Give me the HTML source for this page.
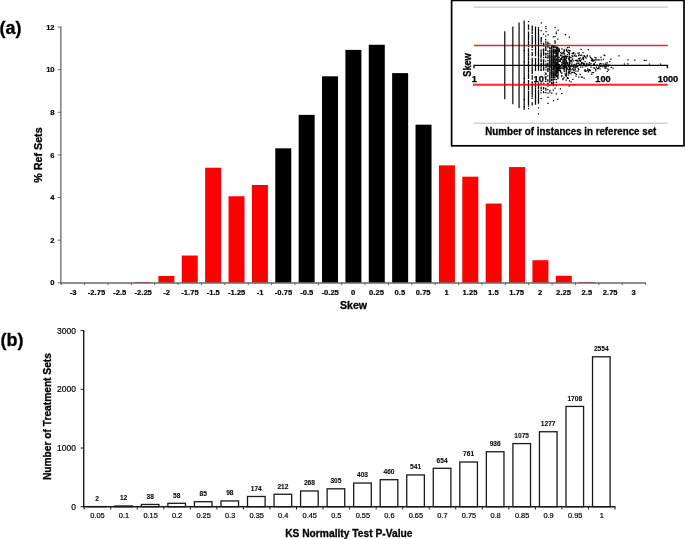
<!DOCTYPE html>
<html lang="en"><head><meta charset="utf-8"><title>Skew and KS normality figure</title>
<style>html,body{margin:0;padding:0;background:#fff}body{width:685px;height:539px;overflow:hidden}svg{display:block}text{font-family:"Liberation Sans", Arial, sans-serif;fill:#000}.b{font-weight:bold;stroke:#000;stroke-width:.3px}.t1{font-size:7.6px;font-weight:bold;stroke:#000;stroke-width:.2px}.t2{font-size:7.4px;stroke:#000;stroke-width:.2px}.t3{font-size:8.5px;stroke:#000;stroke-width:.2px}.v{font-size:6.6px;font-weight:bold;fill:#111;stroke:#111;stroke-width:.12px}.c{font-size:9.2px;font-weight:bold;stroke:#000;stroke-width:.25px}</style></head><body>
<svg width="685" height="539" viewBox="0 0 685 539">
<rect width="685" height="539" fill="#fff"/>
<text class="b" x="-0.4" y="34" font-size="18">(a)</text>
<rect x="135.02" y="281.95" width="16" height="0.85" fill="#fe0000"/>
<rect x="158.39" y="275.98" width="16" height="6.82" fill="#fe0000"/>
<rect x="181.77" y="255.52" width="16" height="27.28" fill="#fe0000"/>
<rect x="205.14" y="167.73" width="16" height="115.07" fill="#fe0000"/>
<rect x="228.52" y="196.28" width="16" height="86.52" fill="#fe0000"/>
<rect x="251.90" y="184.99" width="16" height="97.81" fill="#fe0000"/>
<rect x="275.27" y="148.33" width="16" height="134.47" fill="#000"/>
<rect x="298.65" y="114.88" width="16" height="167.92" fill="#000"/>
<rect x="322.02" y="76.31" width="16" height="206.49" fill="#000"/>
<rect x="345.40" y="49.88" width="16" height="232.92" fill="#000"/>
<rect x="368.78" y="44.77" width="16" height="238.03" fill="#000"/>
<rect x="392.15" y="73.11" width="16" height="209.69" fill="#000"/>
<rect x="415.53" y="124.68" width="16" height="158.12" fill="#000"/>
<rect x="438.90" y="165.38" width="16" height="117.42" fill="#fe0000"/>
<rect x="462.28" y="176.68" width="16" height="106.12" fill="#fe0000"/>
<rect x="485.66" y="203.53" width="16" height="79.27" fill="#fe0000"/>
<rect x="509.03" y="167.09" width="16" height="115.71" fill="#fe0000"/>
<rect x="532.41" y="260.21" width="16" height="22.59" fill="#fe0000"/>
<rect x="555.78" y="275.77" width="16" height="7.03" fill="#fe0000"/>
<rect x="579.16" y="281.95" width="16" height="0.85" fill="#fe0000"/>
<path d="M60.8 26.6V283.4" stroke="#7c7c7c" stroke-width="1.5" fill="none"/>
<path d="M60 282.9H645.9" stroke="#686868" stroke-width="1.5" fill="none"/>
<path d="M57.8 282.80H60.8M57.8 240.18H60.8M57.8 197.56H60.8M57.8 154.94H60.8M57.8 112.32H60.8M57.8 69.70H60.8M57.8 27.08H60.8" stroke="#666" stroke-width="1" fill="none"/>
<path d="M61.20 282.8V285.1M84.58 282.8V285.1M107.95 282.8V285.1M131.33 282.8V285.1M154.70 282.8V285.1M178.08 282.8V285.1M201.46 282.8V285.1M224.83 282.8V285.1M248.21 282.8V285.1M271.58 282.8V285.1M294.96 282.8V285.1M318.34 282.8V285.1M341.71 282.8V285.1M365.09 282.8V285.1M388.46 282.8V285.1M411.84 282.8V285.1M435.22 282.8V285.1M458.59 282.8V285.1M481.97 282.8V285.1M505.34 282.8V285.1M528.72 282.8V285.1M552.10 282.8V285.1M575.47 282.8V285.1M598.85 282.8V285.1M622.22 282.8V285.1M645.60 282.8V285.1" stroke="#666" stroke-width="1" fill="none"/>
<text class="t1" x="54.6" y="285.4" text-anchor="end">0</text>
<text class="t1" x="54.6" y="242.8" text-anchor="end">2</text>
<text class="t1" x="54.6" y="200.2" text-anchor="end">4</text>
<text class="t1" x="54.6" y="157.5" text-anchor="end">6</text>
<text class="t1" x="54.6" y="114.9" text-anchor="end">8</text>
<text class="t1" x="54.6" y="72.3" text-anchor="end">10</text>
<text class="t1" x="54.6" y="29.7" text-anchor="end">12</text>
<text class="t1" x="73.1" y="294.7" text-anchor="middle">-3</text>
<text class="t1" x="96.5" y="294.7" text-anchor="middle">-2.75</text>
<text class="t1" x="119.8" y="294.7" text-anchor="middle">-2.5</text>
<text class="t1" x="143.2" y="294.7" text-anchor="middle">-2.25</text>
<text class="t1" x="166.6" y="294.7" text-anchor="middle">-2</text>
<text class="t1" x="190.0" y="294.7" text-anchor="middle">-1.75</text>
<text class="t1" x="213.3" y="294.7" text-anchor="middle">-1.5</text>
<text class="t1" x="236.7" y="294.7" text-anchor="middle">-1.25</text>
<text class="t1" x="260.1" y="294.7" text-anchor="middle">-1</text>
<text class="t1" x="283.5" y="294.7" text-anchor="middle">-0.75</text>
<text class="t1" x="306.8" y="294.7" text-anchor="middle">-0.5</text>
<text class="t1" x="330.2" y="294.7" text-anchor="middle">-0.25</text>
<text class="t1" x="353.1" y="294.7" text-anchor="middle">0</text>
<text class="t1" x="376.5" y="294.7" text-anchor="middle">0.25</text>
<text class="t1" x="399.9" y="294.7" text-anchor="middle">0.5</text>
<text class="t1" x="423.2" y="294.7" text-anchor="middle">0.75</text>
<text class="t1" x="446.6" y="294.7" text-anchor="middle">1</text>
<text class="t1" x="470.0" y="294.7" text-anchor="middle">1.25</text>
<text class="t1" x="493.4" y="294.7" text-anchor="middle">1.5</text>
<text class="t1" x="516.7" y="294.7" text-anchor="middle">1.75</text>
<text class="t1" x="540.1" y="294.7" text-anchor="middle">2</text>
<text class="t1" x="563.5" y="294.7" text-anchor="middle">2.25</text>
<text class="t1" x="586.9" y="294.7" text-anchor="middle">2.5</text>
<text class="t1" x="610.2" y="294.7" text-anchor="middle">2.75</text>
<text class="t1" x="633.6" y="294.7" text-anchor="middle">3</text>
<text class="b" x="353.5" y="308.8" font-size="10.6" text-anchor="middle">Skew</text>
<text class="b" font-size="10.7" text-anchor="middle" transform="translate(42.3 155) rotate(-90)">% Ref Sets</text>
<rect x="451.6" y="0.4" width="232.4" height="145.4" fill="#fff" stroke="#000" stroke-width="1.7"/>
<path d="M474 7.1H667.8M474 123.2H667.8" stroke="#a8a8a8" stroke-width=".8" fill="none"/>
<path d="M474 45.5H667.8" stroke="#c23a38" stroke-width="1.4" fill="none"/>
<path d="M504.77 31.26V99.34M512.83 26.40V104.20M519.08 22.51V108.09M524.19 20.57V110.03" stroke="#111" stroke-width="1.25" fill="none"/>
<path d="M524.2 82.4h.01M524.2 99.3h.01M524.2 50.6h.01M524.2 106.9h.01M524.2 61.8h.01M524.2 78.4h.01M528.5 101.4h.01M528.5 64.7h.01M528.5 103.1h.01M528.5 70.7h.01M528.5 100.4h.01M528.5 98.7h.01M528.5 71.5h.01M528.5 38.6h.01M528.5 96.0h.01M528.5 87.9h.01M528.5 54.9h.01M528.5 28.7h.01M528.5 59.0h.01M528.5 73.7h.01M528.5 26.4h.01M528.5 102.3h.01M528.5 36.0h.01M528.5 82.5h.01M528.5 94.4h.01M528.5 96.5h.01M528.5 80.9h.01M528.5 39.5h.01M528.5 91.4h.01M528.5 58.6h.01M528.5 54.0h.01M528.5 75.7h.01M528.5 61.4h.01M528.5 101.0h.01M528.5 101.3h.01M528.5 89.3h.01M528.5 50.6h.01M528.5 71.2h.01M528.5 80.5h.01M528.5 58.3h.01M528.5 69.1h.01M528.5 81.7h.01M528.5 41.3h.01M528.5 49.0h.01M528.5 86.2h.01M528.5 59.2h.01M528.5 63.2h.01M528.5 34.7h.01M528.5 46.6h.01M528.5 82.6h.01M528.5 26.1h.01M528.5 96.5h.01M528.5 72.0h.01M528.5 44.3h.01M528.5 93.7h.01M528.5 66.2h.01M528.5 102.9h.01M528.5 51.6h.01M528.5 43.7h.01M528.5 59.3h.01M528.5 34.6h.01M528.5 80.5h.01M528.5 49.3h.01M528.5 57.6h.01M528.5 58.8h.01M528.5 68.9h.01M528.5 37.5h.01M528.5 29.0h.01M528.5 67.4h.01M528.5 51.9h.01M528.5 101.2h.01M528.5 48.8h.01M528.5 53.3h.01M528.5 25.0h.01M528.5 39.0h.01M528.5 82.9h.01M528.5 74.6h.01M528.5 51.5h.01M528.5 104.3h.01M528.5 68.4h.01M528.5 92.4h.01M528.5 96.6h.01M528.5 101.3h.01M528.5 43.4h.01M528.5 95.6h.01M528.5 85.9h.01M528.5 74.2h.01M528.5 35.0h.01M528.5 99.6h.01M528.5 69.5h.01M528.5 61.3h.01M528.5 34.0h.01M528.5 39.2h.01M528.5 35.6h.01M528.5 83.4h.01M528.5 72.2h.01M528.5 76.8h.01M528.5 33.9h.01M528.5 27.9h.01M528.5 93.8h.01M528.5 91.7h.01M528.5 87.2h.01M528.5 87.1h.01M528.5 66.5h.01M528.5 58.0h.01M528.5 84.7h.01M528.5 105.8h.01M528.5 71.9h.01M528.5 76.0h.01M528.5 59.9h.01M528.5 28.3h.01M528.5 49.7h.01M528.5 64.0h.01M528.5 55.7h.01M528.5 50.9h.01M528.5 101.7h.01M528.5 32.7h.01M528.5 42.4h.01M528.5 34.7h.01M528.5 41.0h.01M528.5 74.1h.01M528.5 73.6h.01M528.5 97.7h.01M528.5 54.3h.01M528.5 101.1h.01M528.5 100.6h.01M528.5 89.1h.01M528.5 92.9h.01M528.5 78.4h.01M528.5 101.9h.01M528.5 106.1h.01M528.5 93.8h.01M528.5 97.9h.01M528.5 76.4h.01M528.5 104.1h.01M528.5 34.7h.01M528.5 56.0h.01M528.5 94.0h.01M528.5 85.5h.01M528.5 77.8h.01M528.5 76.4h.01M528.5 96.1h.01M528.5 36.8h.01M528.5 25.0h.01M528.5 68.1h.01M528.5 66.6h.01M528.5 99.1h.01M528.5 97.8h.01M528.5 78.2h.01M528.5 84.5h.01M528.5 38.4h.01M528.5 93.0h.01M528.5 104.3h.01M528.5 28.5h.01M528.5 63.0h.01M528.5 94.2h.01M528.5 61.4h.01M528.5 108.5h.01M528.5 62.7h.01M528.5 21.6h.01M528.5 32.1h.01M532.2 49.7h.01M532.2 84.3h.01M532.2 75.9h.01M532.2 91.9h.01M532.2 43.6h.01M532.2 62.7h.01M532.2 43.0h.01M532.2 78.9h.01M532.2 87.4h.01M532.2 40.5h.01M532.2 26.6h.01M532.2 37.2h.01M532.2 40.9h.01M532.2 39.9h.01M532.2 46.2h.01M532.2 87.1h.01M532.2 63.9h.01M532.2 76.8h.01M532.2 102.9h.01M532.2 102.9h.01M532.2 82.9h.01M532.2 84.5h.01M532.2 49.9h.01M532.2 28.9h.01M532.2 69.5h.01M532.2 30.4h.01M532.2 26.4h.01M532.2 29.0h.01M532.2 76.1h.01M532.2 87.6h.01M532.2 87.1h.01M532.2 89.5h.01M532.2 88.9h.01M532.2 55.4h.01M532.2 33.4h.01M532.2 38.2h.01M532.2 66.9h.01M532.2 53.1h.01M532.2 41.4h.01M532.2 98.4h.01M532.2 52.5h.01M532.2 32.6h.01M532.2 42.8h.01M532.2 45.4h.01M532.2 67.1h.01M532.2 90.9h.01M532.2 42.2h.01M532.2 78.7h.01M532.2 41.3h.01M532.2 27.7h.01M532.2 73.6h.01M532.2 73.2h.01M532.2 29.7h.01M532.2 47.4h.01M532.2 91.6h.01M532.2 95.0h.01M532.2 93.1h.01M532.2 33.0h.01M532.2 40.9h.01M532.2 93.5h.01M532.2 39.3h.01M532.2 27.0h.01M532.2 52.8h.01M532.2 77.2h.01M532.2 61.4h.01M532.2 94.7h.01M532.2 104.0h.01M532.2 27.7h.01M532.2 53.4h.01M532.2 63.2h.01M532.2 30.7h.01M532.2 70.6h.01M532.2 35.7h.01M532.2 39.3h.01M532.2 88.3h.01M532.2 85.1h.01M532.2 81.8h.01M532.2 86.0h.01M532.2 58.4h.01M532.2 84.5h.01M532.2 71.8h.01M532.2 94.7h.01M532.2 32.6h.01M532.2 77.0h.01M532.2 68.6h.01M532.2 58.7h.01M532.2 33.1h.01M532.2 71.6h.01M532.2 32.0h.01M532.2 65.2h.01M532.2 62.8h.01M532.2 63.4h.01M532.2 103.7h.01M532.2 70.1h.01M532.2 90.6h.01M532.2 104.9h.01M532.2 41.4h.01M532.2 91.4h.01M532.2 67.4h.01M532.2 47.3h.01M532.2 60.8h.01M532.2 79.2h.01M532.2 63.8h.01M532.2 60.9h.01M532.2 42.6h.01M532.2 96.7h.01M532.2 60.5h.01M532.2 85.4h.01M532.2 83.1h.01M532.2 43.6h.01M532.2 64.6h.01M532.2 59.4h.01M532.2 40.5h.01M532.2 26.0h.01M532.2 70.7h.01M532.2 54.6h.01M535.5 64.9h.01M535.5 64.4h.01M535.5 50.3h.01M535.5 69.0h.01M535.5 62.7h.01M535.5 67.0h.01M535.5 31.0h.01M535.5 49.8h.01M535.5 36.0h.01M535.5 30.9h.01M535.5 84.0h.01M535.5 60.7h.01M535.5 30.8h.01M535.5 38.8h.01M535.5 93.5h.01M535.5 94.7h.01M535.5 69.8h.01M535.5 98.6h.01M535.5 85.5h.01M535.5 98.5h.01M535.5 52.1h.01M535.5 43.2h.01M535.5 34.4h.01M535.5 92.2h.01M535.5 48.5h.01M535.5 52.8h.01M535.5 93.1h.01M535.5 35.5h.01M535.5 28.9h.01M535.5 87.1h.01M535.5 30.1h.01M535.5 73.2h.01M535.5 66.3h.01M535.5 27.2h.01M535.5 39.4h.01M535.5 91.6h.01M535.5 70.6h.01M535.5 64.1h.01M535.5 77.8h.01M535.5 89.0h.01M535.5 79.4h.01M535.5 48.0h.01M535.5 102.7h.01M535.5 61.1h.01M535.5 69.9h.01M535.5 102.8h.01M535.5 78.4h.01M535.5 55.7h.01M535.5 64.3h.01M535.5 99.2h.01M535.5 27.6h.01M535.5 42.9h.01M535.5 28.6h.01M535.5 96.0h.01M535.5 83.5h.01M535.5 101.1h.01M535.5 43.6h.01M535.5 83.2h.01M535.5 94.1h.01M535.5 71.3h.01M535.5 33.3h.01M535.5 40.5h.01M535.5 84.1h.01M535.5 92.6h.01M535.5 32.7h.01M535.5 59.8h.01M535.5 49.7h.01M535.5 97.2h.01M535.5 99.7h.01M535.5 50.7h.01M535.5 71.1h.01M535.5 98.6h.01M535.5 31.2h.01M535.5 54.8h.01M535.5 41.8h.01M535.5 97.7h.01M535.5 37.6h.01M535.5 99.0h.01M535.5 37.1h.01M535.5 68.9h.01M535.5 77.8h.01M535.5 61.2h.01M535.5 32.1h.01M535.5 83.4h.01M535.5 94.1h.01M535.5 63.2h.01M535.5 85.6h.01M535.5 95.7h.01M535.5 91.6h.01M535.5 100.3h.01M535.5 88.5h.01M535.5 79.9h.01M535.5 80.5h.01M535.5 45.1h.01M535.5 81.6h.01M535.5 65.3h.01M535.5 90.4h.01M535.5 77.2h.01M535.5 102.8h.01M535.5 84.7h.01M535.5 103.0h.01M535.5 47.2h.01M535.5 61.3h.01M535.5 89.5h.01M535.5 67.3h.01M535.5 31.5h.01M535.5 95.9h.01M535.5 40.5h.01M535.5 70.6h.01M535.5 65.7h.01M535.5 39.3h.01M535.5 73.6h.01M535.5 64.8h.01M535.5 50.7h.01M535.5 27.8h.01M535.5 77.5h.01M535.5 39.4h.01M535.5 49.2h.01M535.5 54.7h.01M535.5 72.7h.01M535.5 77.2h.01M535.5 100.0h.01M535.5 94.1h.01M535.5 98.7h.01M535.5 46.6h.01M535.5 84.3h.01M535.5 91.5h.01M535.5 97.6h.01M535.5 38.7h.01M535.5 36.5h.01M535.5 52.0h.01M535.5 82.3h.01M535.5 85.4h.01M535.5 81.4h.01M535.5 68.5h.01M535.5 91.9h.01M535.5 69.5h.01M535.5 83.7h.01M535.5 29.4h.01M535.5 28.5h.01M535.5 61.6h.01M535.5 85.2h.01M535.5 29.1h.01M535.5 80.1h.01M535.5 76.5h.01M535.5 104.1h.01M535.5 74.5h.01M535.5 67.3h.01M535.5 65.1h.01M535.5 88.6h.01M535.5 64.9h.01M535.5 103.8h.01M535.5 83.6h.01M535.5 97.2h.01M535.5 73.1h.01M535.5 101.0h.01M535.5 102.4h.01M535.5 80.5h.01M535.5 86.1h.01M535.5 58.6h.01M535.5 63.0h.01M535.5 45.8h.01M535.5 53.0h.01M535.5 48.5h.01M535.5 35.8h.01M535.5 73.9h.01M535.5 78.8h.01M535.5 27.6h.01M535.5 92.6h.01M535.5 47.9h.01M535.5 54.2h.01M535.5 100.8h.01M535.5 39.2h.01M535.5 34.8h.01M535.5 55.4h.01M535.5 47.1h.01M535.5 41.0h.01M535.5 93.4h.01M535.5 63.5h.01M535.5 65.0h.01M535.5 39.2h.01M535.5 41.6h.01M535.5 39.9h.01M535.5 58.8h.01M535.5 34.7h.01M535.5 51.1h.01M535.5 50.3h.01M535.5 86.3h.01M535.5 101.8h.01M535.5 93.8h.01M535.5 78.3h.01M535.5 102.2h.01M535.5 33.9h.01M535.5 59.8h.01M535.5 53.4h.01M535.5 53.5h.01M538.5 51.6h.01M538.5 66.1h.01M538.5 103.0h.01M538.5 42.7h.01M538.5 46.5h.01M538.5 65.1h.01M538.5 62.6h.01M538.5 53.2h.01M538.5 98.2h.01M538.5 47.3h.01M538.5 84.1h.01M538.5 97.6h.01M538.5 83.1h.01M538.5 47.9h.01M538.5 87.7h.01M538.5 47.1h.01M538.5 29.2h.01M538.5 65.8h.01M538.5 74.2h.01M538.5 66.9h.01M538.5 51.4h.01M538.5 45.0h.01M538.5 56.4h.01M538.5 54.5h.01M538.5 97.4h.01M538.5 92.0h.01M538.5 84.0h.01M538.5 46.9h.01M538.5 80.1h.01M538.5 60.2h.01M538.5 102.3h.01M538.5 98.6h.01M538.5 82.8h.01M538.5 52.3h.01M538.5 50.7h.01M538.5 52.0h.01M538.5 81.2h.01M538.5 64.0h.01M538.5 68.0h.01M538.5 67.9h.01M538.5 94.2h.01M538.5 35.4h.01M538.5 88.1h.01M538.5 29.0h.01M538.5 32.2h.01M538.5 101.9h.01M538.5 68.4h.01M538.5 41.0h.01M538.5 29.8h.01M538.5 69.1h.01M538.5 82.8h.01M538.5 87.3h.01M538.5 31.5h.01M538.5 87.2h.01M538.5 59.1h.01M538.5 92.5h.01M538.5 63.5h.01M538.5 31.0h.01M538.5 93.2h.01M538.5 41.0h.01M538.5 64.6h.01M538.5 36.0h.01M538.5 49.9h.01M538.5 85.7h.01M538.5 35.1h.01M538.5 66.4h.01M538.5 101.3h.01M538.5 103.0h.01M538.5 65.9h.01M538.5 69.0h.01M538.5 80.3h.01M538.5 92.6h.01M538.5 77.1h.01M538.5 79.3h.01M538.5 39.5h.01M538.5 103.1h.01M538.5 46.3h.01M538.5 39.6h.01M538.5 94.1h.01M538.5 33.0h.01M538.5 49.1h.01M538.5 34.8h.01M538.5 81.2h.01M538.5 75.0h.01M538.5 73.4h.01M538.5 27.5h.01M538.5 58.5h.01M538.5 75.9h.01M538.5 70.8h.01M538.5 82.4h.01M538.5 99.6h.01M538.5 95.5h.01M538.5 39.9h.01M538.5 81.6h.01M538.5 32.3h.01M538.5 84.3h.01M538.5 83.1h.01M538.5 64.5h.01M538.5 88.8h.01M538.5 74.9h.01M538.5 30.7h.01M538.5 36.2h.01M538.5 41.6h.01M538.5 55.4h.01M538.5 33.9h.01M538.5 31.9h.01M538.5 61.6h.01M538.5 48.6h.01M538.5 99.5h.01M538.5 47.7h.01M538.5 69.0h.01M538.5 46.1h.01M538.5 54.3h.01M538.5 81.5h.01M538.5 99.5h.01M538.5 32.9h.01M538.5 93.6h.01M538.5 67.4h.01M538.5 77.2h.01M538.5 80.6h.01M538.5 47.2h.01M538.5 29.2h.01M538.5 83.5h.01M538.5 53.5h.01M538.5 80.4h.01M538.5 61.0h.01M538.5 73.3h.01M538.5 90.5h.01M538.5 91.0h.01M538.5 87.5h.01M538.5 34.5h.01M538.5 65.5h.01M538.5 86.5h.01M538.5 34.5h.01M538.5 27.6h.01M538.5 69.1h.01M538.5 92.6h.01M538.5 88.6h.01M538.5 96.3h.01M538.5 77.3h.01M538.5 96.3h.01M538.5 85.1h.01M538.5 83.6h.01M538.5 60.0h.01M538.5 35.9h.01M538.5 46.4h.01M538.5 71.9h.01M538.5 71.8h.01M538.5 63.5h.01M538.5 74.6h.01M538.5 77.6h.01M538.5 98.5h.01M538.5 82.2h.01M538.5 29.8h.01M538.5 93.7h.01M538.5 65.0h.01M538.5 55.5h.01M538.5 37.8h.01M538.5 86.8h.01M538.5 82.7h.01M538.5 84.4h.01M538.5 72.9h.01M538.5 69.4h.01M538.5 30.9h.01M538.5 38.9h.01M538.5 37.0h.01M538.5 101.6h.01M538.5 100.8h.01M538.5 49.4h.01M538.5 35.3h.01M538.5 67.3h.01M538.5 58.7h.01M538.5 103.2h.01M538.5 73.5h.01M538.5 32.9h.01M538.5 40.6h.01M538.5 38.3h.01M538.5 29.5h.01M538.5 84.4h.01M538.5 95.0h.01M538.5 91.5h.01M538.5 63.6h.01M538.5 51.5h.01M538.5 31.8h.01M538.5 48.5h.01M538.5 54.1h.01M538.5 45.2h.01M538.5 68.5h.01M538.5 61.4h.01M538.5 100.2h.01M538.5 43.9h.01M538.5 85.6h.01M538.5 33.4h.01M538.5 54.3h.01M538.5 80.2h.01M538.5 93.5h.01M538.5 84.1h.01M538.5 55.0h.01M538.5 50.2h.01M538.5 94.7h.01M538.5 107.9h.01M538.5 62.9h.01M538.5 57.1h.01M538.5 76.4h.01M538.5 92.7h.01M538.5 55.3h.01M538.5 113.9h.01M538.5 85.0h.01M541.2 54.7h.01M541.1 51.2h.01M541.1 76.1h.01M541.1 40.8h.01M541.0 70.3h.01M541.1 87.6h.01M541.1 64.1h.01M541.1 81.9h.01M541.1 50.5h.01M541.2 61.3h.01M541.2 55.4h.01M541.2 38.0h.01M541.1 52.9h.01M541.1 59.5h.01M541.2 74.5h.01M541.2 75.0h.01M541.1 60.1h.01M541.2 54.1h.01M541.1 56.0h.01M541.1 67.1h.01M541.0 55.8h.01M541.0 65.7h.01M541.3 90.4h.01M541.2 43.7h.01M541.1 64.9h.01M541.2 50.0h.01M541.1 41.8h.01M541.1 59.8h.01M541.0 69.0h.01M541.1 56.1h.01M541.1 87.4h.01M541.1 54.0h.01M541.3 66.7h.01M541.0 57.1h.01M541.2 79.2h.01M541.1 88.7h.01M541.1 39.3h.01M541.1 61.2h.01M541.3 66.7h.01M541.0 63.9h.01M541.0 68.8h.01M541.2 53.8h.01M541.3 70.1h.01M541.3 70.9h.01M541.2 53.8h.01M541.1 66.2h.01M541.1 39.7h.01M541.3 38.2h.01M541.2 63.3h.01M541.1 59.1h.01M541.2 66.3h.01M541.1 81.2h.01M541.2 64.5h.01M541.3 37.5h.01M541.2 45.7h.01M541.3 22.8h.01M541.1 59.4h.01M541.1 98.5h.01M541.0 92.9h.01M541.1 30.6h.01M541.0 64.0h.01M541.0 83.4h.01M543.8 77.4h.01M543.7 68.8h.01M543.5 52.2h.01M543.5 65.3h.01M543.6 88.8h.01M543.5 64.1h.01M543.7 83.1h.01M543.7 53.5h.01M543.5 51.2h.01M543.7 83.2h.01M543.6 69.8h.01M543.7 45.0h.01M543.5 60.6h.01M543.5 53.2h.01M543.6 49.1h.01M543.6 77.9h.01M543.5 45.8h.01M543.7 65.2h.01M543.5 91.6h.01M543.7 92.7h.01M543.7 59.8h.01M543.5 51.8h.01M543.5 61.1h.01M543.7 44.0h.01M543.6 67.8h.01M543.5 53.0h.01M543.7 77.0h.01M543.6 57.4h.01M543.6 66.8h.01M543.5 61.3h.01M543.5 49.7h.01M543.7 65.0h.01M543.5 43.3h.01M543.7 50.5h.01M543.5 63.3h.01M543.7 68.3h.01M543.6 54.6h.01M543.6 57.7h.01M543.6 61.5h.01M543.5 68.7h.01M543.7 72.8h.01M543.5 81.7h.01M543.7 53.2h.01M543.6 76.8h.01M543.6 34.1h.01M543.7 75.3h.01M543.5 51.7h.01M543.6 62.3h.01M543.7 53.3h.01M543.6 87.7h.01M543.6 62.0h.01M543.6 60.6h.01M543.6 55.1h.01M543.6 70.2h.01M545.8 73.1h.01M545.9 64.6h.01M545.8 57.7h.01M545.9 67.7h.01M545.7 54.2h.01M546.0 66.5h.01M545.7 46.7h.01M546.0 67.1h.01M545.9 90.0h.01M545.9 42.5h.01M545.8 49.7h.01M545.8 41.2h.01M545.8 47.7h.01M545.8 88.4h.01M545.8 79.5h.01M545.7 53.3h.01M546.0 63.9h.01M545.7 39.3h.01M545.7 88.5h.01M546.0 74.3h.01M545.9 48.8h.01M545.9 50.1h.01M545.9 69.9h.01M545.8 49.1h.01M545.8 73.5h.01M545.7 78.6h.01M545.8 77.6h.01M545.9 76.6h.01M545.8 61.1h.01M545.8 81.3h.01M545.8 54.0h.01M545.7 56.1h.01M545.7 92.5h.01M545.9 53.6h.01M545.9 28.6h.01M545.9 44.0h.01M545.8 36.1h.01M546.0 54.3h.01M546.0 31.6h.01M545.9 26.7h.01M546.0 57.7h.01M545.8 79.6h.01M545.7 79.5h.01M545.7 50.4h.01M547.8 79.8h.01M548.0 43.3h.01M547.8 68.8h.01M547.8 64.8h.01M547.9 65.8h.01M547.8 45.9h.01M548.1 60.5h.01M548.0 55.9h.01M548.0 56.8h.01M547.8 70.1h.01M547.9 86.0h.01M548.0 68.6h.01M548.0 83.6h.01M547.8 71.3h.01M547.9 42.4h.01M548.0 65.3h.01M547.9 68.7h.01M547.9 81.2h.01M547.8 44.0h.01M548.0 64.5h.01M547.9 69.2h.01M548.0 93.0h.01M547.8 71.3h.01M547.8 75.9h.01M547.9 51.6h.01M547.9 47.0h.01M547.8 57.8h.01M548.0 69.4h.01M547.9 63.2h.01M547.8 64.2h.01M548.0 71.2h.01M548.0 55.7h.01M547.9 58.1h.01M547.8 43.5h.01M547.8 53.6h.01M547.8 68.8h.01M548.0 97.4h.01M547.9 103.4h.01M548.0 64.7h.01M547.9 60.5h.01M547.9 85.8h.01M548.1 34.9h.01M548.0 66.3h.01M547.8 83.3h.01M547.8 89.6h.01M547.8 69.4h.01M547.9 63.6h.01M548.1 68.2h.01M548.0 53.8h.01M547.9 51.2h.01M549.8 76.7h.01M549.8 79.6h.01M550.0 65.4h.01M549.9 61.1h.01M550.0 64.6h.01M549.9 65.5h.01M549.8 81.5h.01M549.8 60.5h.01M549.7 58.2h.01M549.8 59.5h.01M550.0 64.4h.01M549.9 80.8h.01M549.8 65.7h.01M549.9 50.8h.01M549.9 72.6h.01M550.0 65.5h.01M549.7 59.8h.01M549.9 64.8h.01M550.0 56.5h.01M550.0 64.6h.01M549.8 73.8h.01M549.9 62.7h.01M550.0 69.9h.01M549.8 79.1h.01M550.0 55.5h.01M549.8 78.3h.01M549.8 66.5h.01M549.8 78.1h.01M550.0 67.4h.01M549.8 67.3h.01M550.0 59.3h.01M549.8 63.5h.01M549.7 62.7h.01M549.9 62.3h.01M549.9 75.3h.01M549.7 76.7h.01M550.0 72.9h.01M550.0 69.8h.01M550.0 61.3h.01M550.0 66.8h.01M549.8 59.5h.01M549.7 66.1h.01M550.0 59.9h.01M549.9 77.6h.01M549.8 79.2h.01M549.9 60.4h.01M549.8 61.5h.01M549.7 69.1h.01M549.8 54.1h.01M549.8 67.8h.01M549.8 47.7h.01M550.0 52.0h.01M549.9 67.2h.01M549.8 53.5h.01M549.9 62.2h.01M549.9 73.9h.01M549.8 50.6h.01M550.0 61.3h.01M549.8 67.9h.01M549.9 57.1h.01M550.0 64.3h.01M549.9 51.9h.01M549.9 64.0h.01M549.8 59.3h.01M550.0 52.9h.01M549.8 66.0h.01M549.9 60.7h.01M549.7 48.1h.01M549.9 67.2h.01M549.9 67.7h.01M549.8 60.9h.01M549.8 79.0h.01M549.7 82.1h.01M550.0 50.5h.01M549.8 57.1h.01M550.0 63.2h.01M550.0 74.8h.01M549.8 64.4h.01M549.9 77.1h.01M549.9 61.1h.01M549.8 70.3h.01M549.8 72.2h.01M549.9 55.6h.01M549.8 77.5h.01M549.9 81.4h.01M549.7 57.4h.01M549.8 59.1h.01M549.9 61.1h.01M550.0 55.9h.01M549.8 60.8h.01M549.8 59.2h.01M549.8 70.6h.01M549.8 65.2h.01M549.7 47.3h.01M550.0 67.0h.01M550.0 48.9h.01M549.9 52.9h.01M549.8 66.5h.01M549.9 85.0h.01M549.8 54.0h.01M549.7 56.1h.01M549.9 92.0h.01M549.9 43.9h.01M549.8 78.9h.01M549.9 80.4h.01M550.0 90.7h.01M551.6 54.4h.01M551.6 80.2h.01M551.6 72.3h.01M551.7 68.2h.01M551.7 70.8h.01M551.7 84.2h.01M551.7 73.2h.01M551.5 61.7h.01M551.7 80.7h.01M551.7 55.3h.01M551.7 64.3h.01M551.7 53.1h.01M551.8 77.8h.01M551.6 55.7h.01M551.6 74.8h.01M551.7 79.6h.01M551.7 61.4h.01M551.6 64.8h.01M551.7 59.3h.01M551.7 53.1h.01M551.7 56.0h.01M551.8 79.6h.01M551.7 65.5h.01M551.6 50.4h.01M551.7 68.6h.01M551.6 74.1h.01M551.5 54.3h.01M551.6 65.3h.01M551.6 65.7h.01M551.6 63.3h.01M551.6 67.5h.01M551.6 73.8h.01M551.7 65.7h.01M551.6 60.6h.01M551.6 45.5h.01M551.8 51.6h.01M551.7 50.9h.01M551.6 77.8h.01M551.8 61.7h.01M551.8 73.5h.01M551.8 52.2h.01M551.7 73.1h.01M551.6 62.5h.01M551.8 59.3h.01M551.6 73.0h.01M551.6 70.2h.01M551.6 58.6h.01M551.6 47.2h.01M551.6 64.0h.01M551.6 68.2h.01M551.7 52.7h.01M551.8 69.8h.01M551.8 72.9h.01M551.8 45.5h.01M551.8 57.3h.01M551.7 51.5h.01M551.5 48.7h.01M551.7 62.4h.01M551.6 64.3h.01M551.6 59.4h.01M551.6 62.7h.01M551.8 74.1h.01M551.8 62.6h.01M551.7 70.6h.01M551.8 61.2h.01M551.8 79.9h.01M551.7 60.6h.01M551.7 70.3h.01M551.8 64.9h.01M551.7 75.8h.01M551.6 65.0h.01M551.7 56.5h.01M551.6 53.1h.01M551.7 60.0h.01M551.8 77.6h.01M551.5 64.2h.01M551.7 57.8h.01M551.7 74.4h.01M551.6 58.7h.01M551.8 73.1h.01M551.7 50.8h.01M551.5 57.4h.01M551.8 76.8h.01M551.6 74.6h.01M551.7 51.6h.01M551.8 65.8h.01M551.7 47.7h.01M551.6 60.7h.01M551.7 57.7h.01M551.7 72.1h.01M551.6 63.4h.01M551.6 71.6h.01M551.6 83.2h.01M551.8 71.0h.01M551.6 74.7h.01M551.7 57.1h.01M551.8 48.9h.01M551.6 66.8h.01M551.7 68.0h.01M551.7 56.1h.01M551.7 63.1h.01M551.8 69.8h.01M551.6 70.3h.01M551.5 66.1h.01M551.7 48.2h.01M551.8 83.1h.01M551.7 93.1h.01M551.7 84.6h.01M551.7 82.6h.01M551.7 70.0h.01M551.7 76.5h.01M553.3 63.9h.01M553.2 69.3h.01M553.4 60.7h.01M553.4 77.8h.01M553.4 49.7h.01M553.3 64.8h.01M553.3 55.3h.01M553.5 78.2h.01M553.2 57.9h.01M553.2 67.1h.01M553.5 65.6h.01M553.3 85.7h.01M553.2 75.2h.01M553.5 75.2h.01M553.5 55.0h.01M553.2 75.2h.01M553.4 62.6h.01M553.2 62.9h.01M553.2 58.4h.01M553.5 66.5h.01M553.2 69.3h.01M553.2 60.5h.01M553.4 68.4h.01M553.3 63.5h.01M553.2 46.9h.01M553.5 61.8h.01M553.4 81.1h.01M553.4 51.3h.01M553.4 56.7h.01M553.5 56.9h.01M553.4 67.7h.01M553.4 62.5h.01M553.5 64.2h.01M553.4 56.2h.01M553.3 59.9h.01M553.2 56.4h.01M553.3 73.8h.01M553.4 74.6h.01M553.3 69.5h.01M553.4 61.3h.01M553.4 74.0h.01M553.4 73.5h.01M553.5 59.1h.01M553.3 61.3h.01M553.2 77.8h.01M553.5 47.9h.01M553.3 67.0h.01M553.5 82.5h.01M553.3 71.7h.01M553.5 69.8h.01M553.4 75.9h.01M553.5 53.0h.01M553.2 61.2h.01M553.3 72.5h.01M553.5 76.9h.01M553.5 57.7h.01M553.5 59.0h.01M553.3 55.0h.01M553.5 74.7h.01M553.5 58.6h.01M553.3 79.5h.01M553.5 52.6h.01M553.3 57.4h.01M553.3 64.3h.01M553.4 76.9h.01M553.3 74.3h.01M553.5 64.9h.01M553.4 46.5h.01M553.4 47.8h.01M553.3 54.2h.01M553.5 100.7h.01M553.4 84.2h.01M553.3 90.0h.01M553.3 60.5h.01M553.3 51.6h.01M553.4 36.9h.01M553.3 83.5h.01M553.2 50.8h.01M553.2 45.5h.01M553.4 64.7h.01M553.4 61.7h.01M554.9 70.4h.01M554.8 66.5h.01M555.1 64.6h.01M555.0 56.1h.01M554.9 73.5h.01M555.1 62.3h.01M555.0 75.4h.01M554.9 52.8h.01M554.9 57.4h.01M554.8 62.6h.01M555.1 51.4h.01M555.0 60.0h.01M554.8 72.0h.01M554.9 73.1h.01M555.1 70.5h.01M555.0 65.0h.01M555.1 50.5h.01M554.9 69.5h.01M554.9 73.7h.01M554.9 71.4h.01M554.9 56.3h.01M555.1 62.4h.01M554.8 47.5h.01M555.1 75.8h.01M555.1 68.2h.01M554.8 79.3h.01M555.1 53.3h.01M555.0 50.2h.01M555.0 68.6h.01M554.8 50.7h.01M554.9 68.0h.01M555.0 57.0h.01M554.9 60.5h.01M555.0 57.4h.01M554.9 47.4h.01M554.8 63.0h.01M555.1 57.5h.01M555.1 67.6h.01M554.9 59.8h.01M554.8 68.1h.01M555.0 45.8h.01M555.0 73.2h.01M555.0 75.0h.01M555.0 47.5h.01M554.8 59.6h.01M555.0 58.4h.01M555.1 70.0h.01M554.9 66.3h.01M554.9 69.6h.01M555.1 61.1h.01M555.0 67.6h.01M554.9 58.7h.01M555.1 60.0h.01M554.8 67.3h.01M554.9 51.8h.01M555.0 74.1h.01M554.9 66.2h.01M554.9 56.3h.01M555.1 66.5h.01M555.1 57.1h.01M554.8 59.2h.01M555.1 65.6h.01M554.8 73.1h.01M554.9 60.9h.01M554.8 73.5h.01M554.9 57.9h.01M554.9 75.7h.01M555.0 57.9h.01M554.9 68.3h.01M555.0 56.5h.01M554.9 47.7h.01M555.0 60.3h.01M555.0 62.1h.01M555.0 65.4h.01M555.0 57.1h.01M554.9 59.0h.01M554.8 77.4h.01M555.0 65.5h.01M554.8 75.2h.01M555.1 60.7h.01M555.1 73.3h.01M555.1 66.2h.01M555.0 64.2h.01M554.9 58.5h.01M555.1 70.4h.01M554.9 72.1h.01M555.0 55.7h.01M554.9 40.8h.01M555.0 63.6h.01M555.1 42.0h.01M555.1 43.1h.01M554.9 77.5h.01M555.0 36.7h.01M555.1 27.7h.01M555.0 49.5h.01M555.0 88.2h.01M556.3 65.4h.01M556.4 56.9h.01M556.4 65.9h.01M556.3 64.4h.01M556.4 50.7h.01M556.3 54.9h.01M556.5 75.7h.01M556.5 72.5h.01M556.5 47.1h.01M556.3 51.3h.01M556.5 55.4h.01M556.4 55.6h.01M556.4 56.5h.01M556.5 56.8h.01M556.5 60.4h.01M556.6 69.0h.01M556.6 54.1h.01M556.4 47.2h.01M556.5 82.3h.01M556.4 54.5h.01M556.4 47.0h.01M556.4 71.0h.01M556.6 70.2h.01M556.6 54.5h.01M556.6 47.6h.01M556.3 74.6h.01M556.6 67.3h.01M556.5 64.3h.01M556.4 53.1h.01M556.5 68.3h.01M556.5 65.1h.01M556.6 58.5h.01M556.6 63.6h.01M556.6 50.4h.01M556.6 70.2h.01M556.5 62.2h.01M556.4 66.2h.01M556.5 68.0h.01M556.6 72.0h.01M556.5 70.2h.01M556.5 69.9h.01M556.4 55.9h.01M556.5 67.0h.01M556.6 53.9h.01M556.5 54.5h.01M556.5 65.7h.01M556.4 52.4h.01M556.4 60.3h.01M556.5 60.3h.01M556.4 66.2h.01M556.5 56.6h.01M556.5 56.5h.01M556.5 76.7h.01M556.5 59.2h.01M556.5 48.3h.01M556.4 73.5h.01M556.4 72.2h.01M556.4 62.1h.01M556.5 51.7h.01M556.6 54.4h.01M556.4 63.0h.01M556.4 85.5h.01M556.6 72.2h.01M556.4 73.8h.01M556.3 32.2h.01M556.3 49.9h.01M556.4 79.5h.01M556.4 93.8h.01M556.4 52.6h.01M556.4 33.5h.01M556.4 72.4h.01M558.0 74.0h.01M558.0 51.5h.01M558.0 58.7h.01M558.0 76.0h.01M558.0 63.6h.01M558.0 76.5h.01M558.0 59.5h.01M557.8 67.2h.01M557.9 62.9h.01M558.1 78.5h.01M558.0 74.3h.01M558.0 69.2h.01M557.9 72.5h.01M557.9 70.9h.01M557.9 65.8h.01M557.9 73.1h.01M558.0 71.4h.01M558.0 58.1h.01M557.8 75.9h.01M557.9 64.3h.01M557.9 55.7h.01M557.8 53.3h.01M558.0 56.0h.01M558.0 68.9h.01M557.9 57.3h.01M558.0 66.2h.01M557.9 61.0h.01M557.9 64.1h.01M557.9 48.2h.01M558.1 73.2h.01M558.0 77.2h.01M557.9 65.7h.01M557.9 73.3h.01M558.1 53.1h.01M557.8 70.1h.01M557.9 76.0h.01M557.9 75.5h.01M558.0 56.3h.01M557.9 52.3h.01M558.0 67.1h.01M557.9 54.5h.01M558.0 64.6h.01M558.1 59.9h.01M558.0 56.1h.01M558.0 69.5h.01M558.0 64.7h.01M558.0 50.4h.01M557.9 69.8h.01M557.9 61.4h.01M557.8 71.2h.01M558.0 64.5h.01M558.1 72.3h.01M558.0 70.4h.01M558.0 53.7h.01M557.9 61.4h.01M557.9 64.7h.01M558.0 65.2h.01M557.8 77.9h.01M557.9 72.5h.01M558.0 72.3h.01M557.9 67.1h.01M557.9 50.3h.01M557.8 64.6h.01M557.8 54.3h.01M557.8 49.3h.01M558.0 58.1h.01M558.0 52.9h.01M557.8 63.0h.01M558.0 67.9h.01M557.9 71.8h.01M557.8 49.1h.01M558.0 64.8h.01M557.9 59.5h.01M557.9 71.1h.01M557.8 54.8h.01M558.1 53.4h.01M557.9 73.3h.01M557.8 70.2h.01M558.0 69.9h.01M558.0 58.6h.01M558.0 71.7h.01M558.1 69.1h.01M557.9 50.6h.01M557.9 56.7h.01M558.0 66.8h.01M558.0 62.7h.01M557.9 55.3h.01M557.8 62.2h.01M557.9 72.0h.01M557.9 53.2h.01M557.9 69.2h.01M557.9 66.3h.01M557.8 67.6h.01M558.0 62.1h.01M557.8 69.1h.01M557.9 52.6h.01M558.0 63.9h.01M557.9 59.2h.01M557.8 47.4h.01M557.8 39.1h.01M557.9 59.1h.01M558.0 73.1h.01M557.9 60.5h.01M558.0 75.1h.01M557.8 99.4h.01M558.1 30.1h.01M559.3 70.2h.01M559.2 64.5h.01M559.4 66.0h.01M559.3 70.4h.01M559.3 68.5h.01M559.2 59.8h.01M559.3 61.4h.01M559.3 67.3h.01M559.2 66.1h.01M559.3 50.4h.01M559.3 70.7h.01M559.2 67.2h.01M559.2 57.3h.01M559.3 50.0h.01M559.2 48.8h.01M559.3 51.7h.01M559.2 66.0h.01M560.5 61.4h.01M560.5 55.2h.01M560.6 55.1h.01M560.7 52.5h.01M560.7 72.0h.01M560.4 59.9h.01M560.6 59.5h.01M560.6 68.3h.01M560.6 70.8h.01M560.7 66.3h.01M560.5 70.2h.01M560.5 67.9h.01M560.7 68.1h.01M560.4 65.6h.01M560.4 88.8h.01M560.5 58.9h.01M560.6 55.5h.01M561.9 57.5h.01M561.7 62.6h.01M561.9 58.7h.01M561.8 73.3h.01M561.8 75.7h.01M561.7 59.4h.01M561.8 57.2h.01M561.7 76.5h.01M561.7 57.5h.01M561.8 73.2h.01M561.7 53.3h.01M562.0 55.0h.01M561.9 64.3h.01M561.8 67.8h.01M561.8 64.8h.01M561.7 93.6h.01M562.0 48.9h.01M563.1 67.2h.01M563.1 65.4h.01M563.0 79.7h.01M563.0 52.4h.01M563.0 60.1h.01M563.1 60.5h.01M562.9 66.2h.01M563.0 68.7h.01M563.0 78.5h.01M563.0 52.9h.01M562.9 66.6h.01M563.0 57.2h.01M562.9 61.5h.01M563.1 66.0h.01M563.1 56.5h.01M563.0 63.4h.01M563.0 52.8h.01M564.1 57.3h.01M564.3 67.3h.01M564.1 57.7h.01M564.3 56.1h.01M564.1 77.5h.01M564.2 68.5h.01M564.2 71.7h.01M564.3 69.6h.01M564.1 59.2h.01M564.1 59.9h.01M564.1 58.2h.01M564.2 61.9h.01M564.1 68.1h.01M564.2 63.0h.01M564.0 67.6h.01M564.0 60.6h.01M564.0 50.7h.01M564.2 65.0h.01M564.0 53.9h.01M564.2 65.6h.01M564.2 69.2h.01M564.0 62.2h.01M564.2 54.0h.01M564.3 70.0h.01M564.1 67.9h.01M564.1 69.4h.01M564.3 50.4h.01M564.1 61.9h.01M564.3 59.8h.01M564.3 53.6h.01M564.3 57.3h.01M564.2 51.9h.01M564.3 66.7h.01M564.1 59.7h.01M564.1 77.7h.01M564.3 49.8h.01M564.2 64.0h.01M565.3 62.0h.01M565.4 58.9h.01M565.4 75.9h.01M565.2 73.9h.01M565.2 64.0h.01M565.3 67.2h.01M565.2 66.0h.01M565.1 56.8h.01M565.2 55.8h.01M565.3 60.2h.01M565.4 34.5h.01M565.4 63.8h.01M566.4 70.3h.01M566.3 61.3h.01M566.3 70.9h.01M566.4 60.8h.01M566.2 56.2h.01M566.3 80.0h.01M566.3 74.2h.01M566.2 60.7h.01M566.3 58.1h.01M566.5 60.6h.01M566.5 50.6h.01M566.5 73.2h.01M566.2 75.2h.01M566.4 74.5h.01M566.3 69.6h.01M566.5 68.7h.01M566.3 76.0h.01M566.3 62.9h.01M566.2 62.9h.01M566.4 65.6h.01M566.4 67.6h.01M566.3 63.2h.01M566.3 71.7h.01M566.3 68.4h.01M566.2 67.5h.01M566.4 61.9h.01M566.4 68.1h.01M566.2 65.5h.01M566.2 56.0h.01M566.3 58.7h.01M566.3 69.8h.01M566.2 66.3h.01M566.2 75.2h.01M566.3 65.2h.01M566.4 49.3h.01M566.3 56.9h.01M566.2 70.1h.01M567.5 77.7h.01M567.4 65.0h.01M567.3 68.1h.01M567.4 54.5h.01M567.4 63.6h.01M567.2 68.7h.01M567.2 63.7h.01M567.4 56.5h.01M567.4 62.7h.01M567.3 51.5h.01M567.5 47.7h.01M567.4 78.3h.01M568.2 50.0h.01M568.4 72.5h.01M568.4 71.9h.01M568.4 52.7h.01M568.4 58.7h.01M568.5 58.8h.01M568.4 64.8h.01M568.2 66.7h.01M568.2 78.4h.01M568.5 72.8h.01M568.2 69.7h.01M568.3 75.0h.01M569.2 58.7h.01M569.1 73.5h.01M569.2 53.0h.01M569.3 54.9h.01M569.2 67.4h.01M569.2 52.3h.01M569.3 57.1h.01M569.4 71.5h.01M569.2 63.0h.01M569.2 64.8h.01M569.4 80.9h.01M569.1 64.5h.01M569.3 58.1h.01M569.2 50.6h.01M569.4 69.1h.01M569.2 63.6h.01M569.1 56.5h.01M569.2 72.4h.01M569.3 60.7h.01M569.1 47.4h.01M569.3 60.6h.01M569.3 57.6h.01M569.1 70.1h.01M569.3 59.4h.01M569.3 65.2h.01M569.4 62.9h.01M569.3 59.9h.01M569.2 63.0h.01M569.2 65.7h.01M569.3 54.8h.01M569.4 67.9h.01M569.4 54.1h.01M569.4 62.1h.01M569.3 62.6h.01M569.2 86.1h.01M569.4 69.8h.01M569.4 37.2h.01M570.3 68.5h.01M570.2 50.9h.01M570.2 68.9h.01M570.2 69.6h.01M570.1 57.1h.01M570.3 61.2h.01M570.1 71.7h.01M570.1 63.0h.01M570.0 66.5h.01M571.1 60.4h.01M571.0 73.7h.01M571.0 60.5h.01M571.0 57.7h.01M571.2 61.2h.01M571.0 81.8h.01M571.2 69.9h.01M571.0 66.8h.01M572.1 65.5h.01M571.9 72.4h.01M572.1 53.3h.01M572.1 55.7h.01M571.9 60.2h.01M571.8 64.0h.01M571.9 62.2h.01M571.9 65.5h.01M572.8 69.2h.01M572.7 56.6h.01M572.9 72.4h.01M572.7 53.7h.01M572.9 66.4h.01M572.7 58.9h.01M572.7 68.9h.01M572.8 79.4h.01M573.5 67.5h.01M573.6 69.8h.01M573.6 52.7h.01M573.5 66.9h.01M573.6 70.2h.01M573.5 53.6h.01M573.6 60.9h.01M574.2 64.3h.01M574.5 55.5h.01M574.2 84.5h.01M574.4 72.7h.01M574.3 65.0h.01M574.3 70.6h.01M574.3 55.9h.01M575.1 54.0h.01M575.2 73.6h.01M575.2 66.3h.01M575.2 69.3h.01M575.1 67.9h.01M575.2 67.0h.01M576.0 76.0h.01M575.8 56.0h.01M575.9 65.1h.01M575.7 60.3h.01M575.9 65.4h.01M575.9 71.0h.01M576.5 74.3h.01M576.5 63.8h.01M576.5 67.1h.01M576.6 56.0h.01M576.5 60.8h.01M577.2 66.6h.01M577.4 60.9h.01M577.2 60.2h.01M577.4 66.0h.01M577.3 63.0h.01M578.0 71.0h.01M578.0 53.4h.01M578.1 61.2h.01M577.9 65.9h.01M578.1 68.3h.01M578.7 69.5h.01M578.8 77.2h.01M578.7 55.5h.01M578.6 63.1h.01M578.7 58.7h.01M579.4 60.6h.01M579.3 52.8h.01M579.4 59.1h.01M579.3 64.1h.01M579.3 54.9h.01M580.1 74.4h.01M580.0 65.2h.01M580.1 57.9h.01M580.0 58.5h.01M580.7 55.3h.01M580.7 60.5h.01M580.6 67.0h.01M580.5 61.4h.01M581.4 77.0h.01M581.1 64.4h.01M581.4 62.5h.01M581.1 49.3h.01M581.7 63.1h.01M581.7 59.0h.01M581.8 55.2h.01M582.6 66.8h.01M582.3 77.1h.01M582.5 62.8h.01M583.0 52.5h.01M582.9 63.1h.01M582.9 57.1h.01M583.1 58.3h.01M583.6 64.3h.01M583.5 59.5h.01M583.6 58.8h.01M583.6 57.7h.01M584.1 55.6h.01M584.1 78.1h.01M584.1 63.6h.01M584.6 56.4h.01M584.6 70.8h.01M584.5 64.2h.01M585.2 61.6h.01M585.1 69.5h.01M585.3 66.0h.01M585.8 71.4h.01M585.9 66.1h.01M585.7 57.1h.01M586.2 70.8h.01M586.2 58.0h.01M586.2 65.0h.01M586.8 63.3h.01M586.9 63.9h.01M586.7 64.2h.01M587.2 55.7h.01M587.3 55.3h.01M587.4 56.2h.01M587.8 65.7h.01M587.8 68.9h.01M587.6 70.3h.01M588.3 49.5h.01M588.4 71.8h.01M588.7 64.4h.01M588.8 64.2h.01M589.2 69.6h.01M589.1 70.6h.01M589.6 69.6h.01M589.5 62.6h.01M590.0 56.2h.01M590.1 65.2h.01M590.4 70.7h.01M590.5 57.7h.01M591.0 67.0h.01M591.0 63.7h.01M591.4 60.5h.01M591.5 58.4h.01M591.7 74.3h.01M591.7 58.9h.01M592.1 72.7h.01M592.3 59.8h.01M592.6 60.9h.01M592.8 59.3h.01M593.0 61.1h.01M593.3 61.2h.01M593.5 72.6h.01M593.8 67.8h.01M593.7 64.4h.01M594.2 60.4h.01M594.1 63.5h.01M594.5 64.8h.01M594.5 68.1h.01M595.0 57.7h.01M595.3 59.9h.01M595.3 62.0h.01M595.7 70.8h.01M595.6 69.4h.01M596.1 57.9h.01M596.4 67.0h.01M596.7 59.9h.01M597.1 65.1h.01M597.3 68.6h.01M597.8 68.3h.01M598.2 59.8h.01M598.4 68.5h.01M598.7 66.9h.01M599.1 59.9h.01M599.5 67.2h.01M599.6 64.2h.01M600.1 68.8h.01M600.3 63.6h.01M600.8 66.3h.01M601.0 57.3h.01M601.3 59.8h.01M601.6 65.5h.01M601.9 63.8h.01M602.9 66.7h.01M603.5 59.3h.01M603.8 64.2h.01M604.1 55.2h.01M604.5 66.9h.01M604.8 55.7h.01M605.1 68.0h.01M605.4 64.9h.01M605.8 63.0h.01M605.8 66.7h.01M606.2 68.2h.01M606.4 64.8h.01M606.9 65.8h.01M607.3 71.3h.01M607.4 62.9h.01M608.0 64.9h.01M608.2 66.1h.01M609.4 65.4h.01M609.8 61.6h.01M610.2 65.3h.01M610.9 59.0h.01M611.3 67.3h.01M618.9 55.9h.01M628.0 59.8h.01M634.8 60.2h.01M644.2 60.4h.01M646.1 60.4h.01M627.9 63.8h.01M624.4 64.2h.01M649.4 64.2h.01M660.5 64.2h.01M613.0 68.2h.01M607.8 69.0h.01M608.6 69.8h.01" stroke="#000" stroke-width="1.25" stroke-linecap="square" fill="none"/>
<path d="M473.5 65.3H667.8M474 65.3v3M667.4 65.3v3" stroke="#000" stroke-width="1.3" fill="none"/>
<path d="M473 84.8H667.8" stroke="#fe0000" stroke-width="2.1" stroke-opacity=".85" fill="none"/>
<rect x="533.5" y="71" width="10.5" height="11.5" fill="#fff" fill-opacity=".9"/>
<text class="c" x="474.3" y="82.2" text-anchor="middle">1</text>
<text class="c" x="538.7" y="82.2" text-anchor="middle">10</text>
<text class="c" x="603" y="82.2" text-anchor="middle">100</text>
<text class="c" x="668" y="82.2" text-anchor="middle">1000</text>
<text class="b" font-size="10.2" transform="translate(470.6 65) rotate(-90)" text-anchor="middle" textLength="23.5" lengthAdjust="spacingAndGlyphs">Skew</text>
<text class="b" font-size="10" x="485.3" y="135.4" textLength="171" lengthAdjust="spacingAndGlyphs">Number of instances in reference set</text>
<text class="b" x="0.5" y="346.3" font-size="18">(b)</text>
<rect x="88.27" y="506.58" width="17.6" height="0.12" fill="#fff" stroke="#1a1a1a" stroke-width="1.3"/>
<text class="v" x="97.1" y="500.8" text-anchor="middle">2</text>
<rect x="114.81" y="506.00" width="17.6" height="0.70" fill="#fff" stroke="#1a1a1a" stroke-width="1.3"/>
<text class="v" x="123.6" y="500.2" text-anchor="middle">12</text>
<rect x="141.35" y="504.47" width="17.6" height="2.23" fill="#fff" stroke="#1a1a1a" stroke-width="1.3"/>
<text class="v" x="150.2" y="498.7" text-anchor="middle">38</text>
<rect x="167.89" y="503.30" width="17.6" height="3.40" fill="#fff" stroke="#1a1a1a" stroke-width="1.3"/>
<text class="v" x="176.7" y="497.5" text-anchor="middle">58</text>
<rect x="194.43" y="501.71" width="17.6" height="4.99" fill="#fff" stroke="#1a1a1a" stroke-width="1.3"/>
<text class="v" x="203.2" y="495.9" text-anchor="middle">85</text>
<rect x="220.97" y="500.95" width="17.6" height="5.75" fill="#fff" stroke="#1a1a1a" stroke-width="1.3"/>
<text class="v" x="229.8" y="495.1" text-anchor="middle">98</text>
<rect x="247.51" y="496.49" width="17.6" height="10.21" fill="#fff" stroke="#1a1a1a" stroke-width="1.3"/>
<text class="v" x="256.3" y="490.7" text-anchor="middle">174</text>
<rect x="274.05" y="494.26" width="17.6" height="12.44" fill="#fff" stroke="#1a1a1a" stroke-width="1.3"/>
<text class="v" x="282.9" y="488.5" text-anchor="middle">212</text>
<rect x="300.59" y="490.97" width="17.6" height="15.73" fill="#fff" stroke="#1a1a1a" stroke-width="1.3"/>
<text class="v" x="309.4" y="485.2" text-anchor="middle">268</text>
<rect x="327.13" y="488.80" width="17.6" height="17.90" fill="#fff" stroke="#1a1a1a" stroke-width="1.3"/>
<text class="v" x="335.9" y="483.0" text-anchor="middle">305</text>
<rect x="353.67" y="483.04" width="17.6" height="23.66" fill="#fff" stroke="#1a1a1a" stroke-width="1.3"/>
<text class="v" x="362.5" y="477.2" text-anchor="middle">403</text>
<rect x="380.21" y="479.70" width="17.6" height="27.00" fill="#fff" stroke="#1a1a1a" stroke-width="1.3"/>
<text class="v" x="389.0" y="473.9" text-anchor="middle">460</text>
<rect x="406.75" y="474.94" width="17.6" height="31.76" fill="#fff" stroke="#1a1a1a" stroke-width="1.3"/>
<text class="v" x="415.6" y="469.1" text-anchor="middle">541</text>
<rect x="433.29" y="468.31" width="17.6" height="38.39" fill="#fff" stroke="#1a1a1a" stroke-width="1.3"/>
<text class="v" x="442.1" y="462.5" text-anchor="middle">654</text>
<rect x="459.83" y="462.03" width="17.6" height="44.67" fill="#fff" stroke="#1a1a1a" stroke-width="1.3"/>
<text class="v" x="468.6" y="456.2" text-anchor="middle">761</text>
<rect x="486.37" y="451.76" width="17.6" height="54.94" fill="#fff" stroke="#1a1a1a" stroke-width="1.3"/>
<text class="v" x="495.2" y="446.0" text-anchor="middle">936</text>
<rect x="512.91" y="443.60" width="17.6" height="63.10" fill="#fff" stroke="#1a1a1a" stroke-width="1.3"/>
<text class="v" x="521.7" y="437.8" text-anchor="middle">1075</text>
<rect x="539.45" y="431.74" width="17.6" height="74.96" fill="#fff" stroke="#1a1a1a" stroke-width="1.3"/>
<text class="v" x="548.2" y="425.9" text-anchor="middle">1277</text>
<rect x="565.99" y="406.44" width="17.6" height="100.26" fill="#fff" stroke="#1a1a1a" stroke-width="1.3"/>
<text class="v" x="574.8" y="400.6" text-anchor="middle">1708</text>
<rect x="592.53" y="356.78" width="17.6" height="149.92" fill="#fff" stroke="#1a1a1a" stroke-width="1.3"/>
<text class="v" x="601.3" y="351.0" text-anchor="middle">2554</text>
<path d="M83.7 330V507.2M83.2 506.7H615.5" stroke="#1a1a1a" stroke-width="1.4" fill="none"/>
<path d="M80.6 506.70H83.7M80.6 448.00H83.7M80.6 389.30H83.7M80.6 330.60H83.7M84.20 506.7V509.5M110.74 506.7V509.5M137.28 506.7V509.5M163.82 506.7V509.5M190.36 506.7V509.5M216.90 506.7V509.5M243.44 506.7V509.5M269.98 506.7V509.5M296.52 506.7V509.5M323.06 506.7V509.5M349.60 506.7V509.5M376.14 506.7V509.5M402.68 506.7V509.5M429.22 506.7V509.5M455.76 506.7V509.5M482.30 506.7V509.5M508.84 506.7V509.5M535.38 506.7V509.5M561.92 506.7V509.5M588.46 506.7V509.5M615.00 506.7V509.5" stroke="#1a1a1a" stroke-width="1" fill="none"/>
<text class="t3" x="76" y="509.8" text-anchor="end">0</text>
<text class="t3" x="76" y="451.1" text-anchor="end">1000</text>
<text class="t3" x="76" y="392.4" text-anchor="end">2000</text>
<text class="t3" x="76" y="333.7" text-anchor="end">3000</text>
<text class="t2" x="97.5" y="518.3" text-anchor="middle">0.05</text>
<text class="t2" x="124.0" y="518.3" text-anchor="middle">0.1</text>
<text class="t2" x="150.6" y="518.3" text-anchor="middle">0.15</text>
<text class="t2" x="177.1" y="518.3" text-anchor="middle">0.2</text>
<text class="t2" x="203.6" y="518.3" text-anchor="middle">0.25</text>
<text class="t2" x="230.2" y="518.3" text-anchor="middle">0.3</text>
<text class="t2" x="256.7" y="518.3" text-anchor="middle">0.35</text>
<text class="t2" x="283.2" y="518.3" text-anchor="middle">0.4</text>
<text class="t2" x="309.8" y="518.3" text-anchor="middle">0.45</text>
<text class="t2" x="336.3" y="518.3" text-anchor="middle">0.5</text>
<text class="t2" x="362.9" y="518.3" text-anchor="middle">0.55</text>
<text class="t2" x="389.4" y="518.3" text-anchor="middle">0.6</text>
<text class="t2" x="415.9" y="518.3" text-anchor="middle">0.65</text>
<text class="t2" x="442.5" y="518.3" text-anchor="middle">0.7</text>
<text class="t2" x="469.0" y="518.3" text-anchor="middle">0.75</text>
<text class="t2" x="495.6" y="518.3" text-anchor="middle">0.8</text>
<text class="t2" x="522.1" y="518.3" text-anchor="middle">0.85</text>
<text class="t2" x="548.6" y="518.3" text-anchor="middle">0.9</text>
<text class="t2" x="575.2" y="518.3" text-anchor="middle">0.95</text>
<text class="t2" x="601.7" y="518.3" text-anchor="middle">1</text>
<text class="b" x="348.8" y="536.7" font-size="10.2" text-anchor="middle" textLength="127.3" lengthAdjust="spacingAndGlyphs">KS Normality Test P-Value</text>
<text class="b" font-size="10.2" text-anchor="middle" transform="translate(51.3 416.6) rotate(-90)" textLength="127" lengthAdjust="spacingAndGlyphs">Number of Treatment Sets</text>
</svg></body></html>
